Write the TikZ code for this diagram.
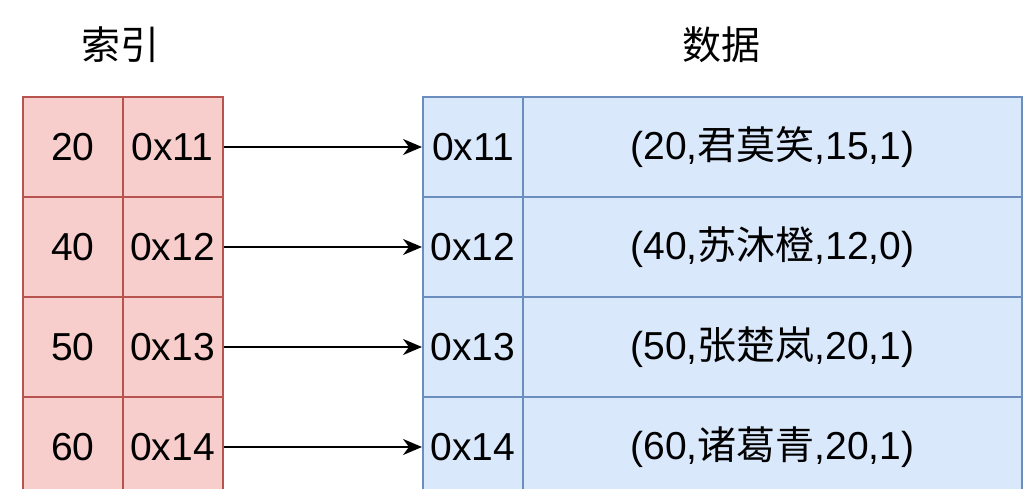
\documentclass[tikz,border=0pt]{standalone}
\usepackage{fontspec}
\setmainfont{Liberation Sans}
\newfontfamily\cjk{Noto Sans CJK SC}
\usetikzlibrary{arrows.meta}
\definecolor{rfill}{HTML}{F8CECC}
\definecolor{rdraw}{HTML}{B85450}
\definecolor{bfill}{HTML}{DAE8FC}
\definecolor{bdraw}{HTML}{6C8EBF}
\tikzset{
  cellbase/.style={rectangle, inner sep=0pt, line width=2pt, font=\fontsize{39}{42}\selectfont, text=black},
  redcell/.style={cellbase, fill=rfill, draw=rdraw, minimum width=100pt, minimum height=100pt},
  bluecell/.style={cellbase, fill=bfill, draw=bdraw, minimum width=100pt, minimum height=100pt},
  bluewide/.style={cellbase, fill=bfill, draw=bdraw, minimum width=499pt, minimum height=100pt},
  title/.style={font=\fontsize{39}{42}\selectfont\cjk, inner sep=0pt},
  link/.style={line width=2pt, -{Stealth[length=19pt,width=16pt,inset=6pt]}}
}
\begin{document}
\begin{tikzpicture}[x=1pt,y=-1pt]
\useasboundingbox[fill=white] (0,0) rectangle (1035,489);
\begin{scope}
\clip (0,0) rectangle (1035,489);
\node[title] (t1) at (120,45) {索引};
\node[title] (t2) at (721,45) {数据};
% left table
\node[redcell] (a1) at (73,147) {20};
\node[redcell] (b1) at (172.5,147) {0x11};
\node[redcell] (a2) at (73,247) {40};
\node[redcell] (b2) at (172.5,247) {0x12};
\node[redcell] (a3) at (73,347) {50};
\node[redcell] (b3) at (172.5,347) {0x13};
\node[redcell] (a4) at (73,447) {60};
\node[redcell] (b4) at (172.5,447) {0x14};
% right table
\node[bluecell] (c1) at (473,147) {0x11};
\node[bluewide] (d1) at (772.5,147) {(20,{\cjk 君莫笑},15,1)};
\node[bluecell] (c2) at (473,247) {0x12};
\node[bluewide] (d2) at (772.5,247) {(40,{\cjk 苏沐橙},12,0)};
\node[bluecell] (c3) at (473,347) {0x13};
\node[bluewide] (d3) at (772.5,347) {(50,{\cjk 张楚岚},20,1)};
\node[bluecell] (c4) at (473,447) {0x14};
\node[bluewide] (d4) at (772.5,447) {(60,{\cjk 诸葛青},20,1)};
% arrows
\draw[link] (b1.east) -- (c1.west);
\draw[link] (b2.east) -- (c2.west);
\draw[link] (b3.east) -- (c3.west);
\draw[link] (b4.east) -- (c4.west);
\end{scope}
\end{tikzpicture}
\end{document}
